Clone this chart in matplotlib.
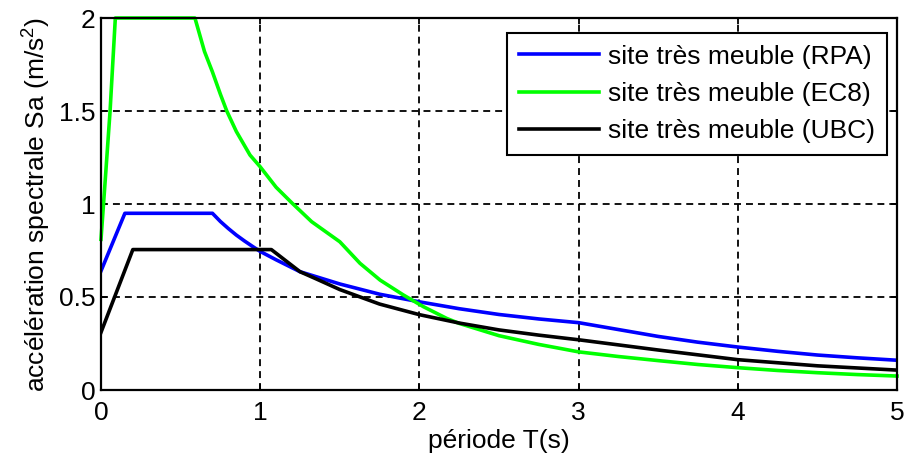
import matplotlib
matplotlib.use("Agg")
import matplotlib.pyplot as plt

plt.rcParams['font.family'] = ['Liberation Sans', 'DejaVu Sans']
plt.rcParams['mathtext.fontset'] = 'custom'
plt.rcParams['mathtext.rm'] = 'Liberation Sans'
plt.rcParams['mathtext.it'] = 'Liberation Sans'
plt.rcParams['lines.scale_dashes'] = False

# --- data ---
T_rpa = [0.0, 0.15, 0.70, 0.75, 0.80, 0.85, 0.90, 0.95, 1.00, 1.10, 1.25, 1.50, 1.75, 2.00, 2.25, 2.50, 2.75, 3.00,
         3.25, 3.50, 3.75, 4.00, 4.25, 4.50, 4.75, 5.00]
Sa_rpa = [0.64, 0.95, 0.95, 0.906, 0.868, 0.833, 0.802, 0.773, 0.745, 0.70, 0.636, 0.57, 0.515, 0.474, 0.437, 0.406,
          0.382, 0.362, 0.325, 0.288, 0.257, 0.231, 0.208, 0.188, 0.173, 0.160]

T_ec8 = [0.0, 0.03, 0.057, 0.09, 0.59, 0.65, 0.70, 0.75, 0.79, 0.85, 0.936, 1.00, 1.10, 1.20, 1.323, 1.50, 1.627,
         1.753, 1.899, 2.025, 2.171, 2.25, 2.50, 2.75, 3.00, 3.25, 3.50, 3.75, 4.00, 4.25, 4.50, 4.75, 5.00]
Sa_ec8 = [0.81, 1.17, 1.50, 2.00, 2.00, 1.82, 1.71, 1.59, 1.50, 1.39, 1.263, 1.20, 1.09, 1.005, 0.905, 0.797, 0.681,
          0.591, 0.511, 0.448, 0.385, 0.358, 0.292, 0.245, 0.205, 0.180, 0.158, 0.137, 0.120, 0.105, 0.093, 0.083, 0.075]

T_ubc = [0.0, 0.20, 1.07, 1.15, 1.25, 1.35, 1.50, 1.75, 2.00, 2.25, 2.50, 2.75, 3.00, 3.50, 4.00, 4.50, 5.00]
Sa_ubc = [0.31, 0.755, 0.755, 0.702, 0.636, 0.598, 0.540, 0.462, 0.405, 0.360, 0.323, 0.295, 0.270, 0.215, 0.163,
          0.130, 0.107]

labels = ['site très meuble (RPA)', 'site très meuble (EC8)', 'site très meuble (UBC)']
colors = ['#0000FF', '#00FF00', '#000000']

x_ticks = [0, 1, 2, 3, 4, 5]
y_ticks = [0, 0.5, 1, 1.5, 2]
y_ticklabels = ['0', '0.5', '1', '1.5', '2']

fig = plt.figure(figsize=(9.06, 4.61), dpi=100)
ax = fig.add_axes([101/906, 1-390/461, 796/906, 372/461])

lw = 2.6
ax.plot(T_rpa, Sa_rpa, color=colors[0], lw=lw, label=labels[0])
ax.plot(T_ec8, Sa_ec8, color=colors[1], lw=lw, label=labels[1], clip_on=False)
ax.plot(T_ubc, Sa_ubc, color=colors[2], lw=lw, label=labels[2])

ax.set_xlim(0, 5)
ax.set_ylim(0, 2)
ax.set_xticks(x_ticks)
ax.set_xticklabels([str(v) for v in x_ticks])
ax.set_yticks(y_ticks)
ax.set_yticklabels(y_ticklabels)

ax.grid(True, color='black', linestyle=(0, (5, 3.6)), linewidth=1.3)
for s in ax.spines.values():
    s.set_linewidth(1.6)
    s.set_color('black')

fs = 19
ax.tick_params(axis='both', direction='in', length=4, width=1.3, top=True, right=True,
               labelsize=fs, colors='black')
ax.tick_params(axis='x', pad=8)
ax.tick_params(axis='y', pad=4)

ax.set_xlabel('période T(s)', fontsize=fs, labelpad=3)
ax.set_ylabel('accélération spectrale Sa (m/s$^2$)', fontsize=fs, labelpad=4)

leg = ax.legend(loc='upper right', bbox_to_anchor=(0.987, 0.9605), borderaxespad=0,
                fontsize=fs, handlelength=3.0, handletextpad=0.35, labelspacing=0.5,
                fancybox=False, framealpha=1, edgecolor='black', borderpad=0.45)
leg.get_frame().set_linewidth(1.5)

fig.savefig('out.png', dpi=100)
